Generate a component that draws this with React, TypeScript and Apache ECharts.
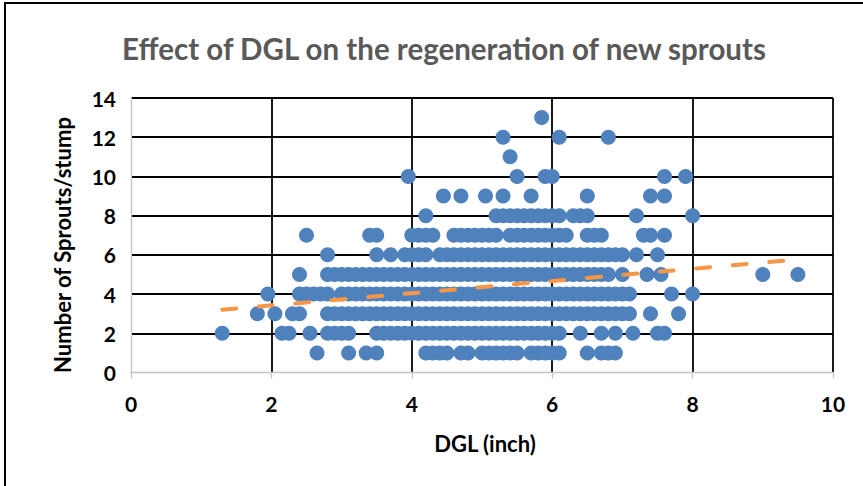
import React, { useEffect, useRef } from "react";
import * as echarts from "echarts";

// DGL values (inch) observed for each number of sprouts per stump
const dglAt1 = [2.65, 3.1, 3.35, 3.5, 4.2, 4.3, 4.4, 4.5, 4.7, 4.8, 5.0, 5.1, 5.2, 5.3, 5.4, 5.5, 5.7, 5.8, 5.9, 6.0, 6.1, 6.5, 6.7, 6.8, 6.9];
const dglAt2 = [1.3, 2.15, 2.25, 2.55, 2.8, 2.9, 3.0, 3.1, 3.5, 3.6, 3.7, 3.8, 3.9, 4.0, 4.1, 4.2, 4.3, 4.4, 4.5, 4.6, 4.7, 4.8, 4.9, 5.0, 5.1, 5.2, 5.3, 5.4, 5.5, 5.6, 5.7, 5.8, 5.9, 6.0, 6.1, 6.4, 6.7, 6.9, 7.15, 7.5, 7.6];
const dglAt3 = [1.8, 2.05, 2.3, 2.4, 2.8, 2.9, 3.0, 3.1, 3.2, 3.3, 3.4, 3.5, 3.6, 3.7, 3.8, 3.9, 4.0, 4.1, 4.2, 4.3, 4.4, 4.5, 4.6, 4.7, 4.8, 4.9, 5.0, 5.1, 5.2, 5.3, 5.4, 5.5, 5.6, 5.7, 5.8, 5.9, 6.0, 6.1, 6.2, 6.3, 6.4, 6.5, 6.6, 6.7, 6.8, 6.9, 7.0, 7.1, 7.4, 7.8];
const dglAt4 = [1.95, 2.4, 2.5, 2.6, 2.7, 2.8, 3.0, 3.1, 3.2, 3.3, 3.4, 3.5, 3.6, 3.7, 3.8, 3.9, 4.0, 4.1, 4.2, 4.3, 4.4, 4.5, 4.6, 4.7, 4.8, 4.9, 5.0, 5.1, 5.2, 5.3, 5.4, 5.5, 5.6, 5.7, 5.8, 5.9, 6.0, 6.1, 6.2, 6.3, 6.4, 6.5, 6.6, 6.7, 6.8, 6.9, 7.0, 7.1, 7.7, 8.0];
const dglAt5 = [2.4, 2.8, 2.9, 3.0, 3.1, 3.2, 3.3, 3.4, 3.5, 3.6, 3.7, 3.8, 3.9, 4.0, 4.1, 4.2, 4.3, 4.4, 4.5, 4.6, 4.7, 4.8, 4.9, 5.0, 5.1, 5.2, 5.3, 5.4, 5.5, 5.6, 5.7, 5.8, 5.9, 6.0, 6.1, 6.2, 6.3, 6.4, 6.5, 6.6, 6.7, 6.8, 7.0, 7.35, 7.55, 9.0, 9.5];
const dglAt6 = [2.8, 3.5, 3.7, 3.9, 4.0, 4.1, 4.2, 4.4, 4.5, 4.6, 4.7, 4.8, 4.9, 5.0, 5.1, 5.2, 5.3, 5.4, 5.5, 5.6, 5.7, 5.8, 5.9, 6.0, 6.1, 6.2, 6.3, 6.4, 6.5, 6.6, 6.7, 6.8, 6.9, 7.0, 7.2, 7.5];
const dglAt7 = [2.5, 3.4, 3.5, 4.0, 4.1, 4.2, 4.3, 4.6, 4.7, 4.8, 4.9, 5.0, 5.1, 5.2, 5.4, 5.5, 5.6, 5.7, 5.8, 5.9, 6.0, 6.1, 6.2, 6.5, 6.6, 6.7, 7.3, 7.4, 7.6];
const dglAt8 = [4.2, 5.2, 5.3, 5.4, 5.5, 5.6, 5.7, 5.8, 5.9, 6.0, 6.1, 6.3, 6.4, 6.5, 7.2, 8.0];
const dglAt9 = [4.45, 4.7, 5.05, 5.3, 5.7, 6.5, 7.4, 7.6];
const dglAt10 = [3.95, 5.5, 5.9, 6.0, 7.6, 7.9];
const dglAt11 = [5.4];
const dglAt12 = [5.3, 6.1, 6.8];
const dglAt13 = [5.85];

const sproutRows: [number, number[]][] = [
  [1, dglAt1], [2, dglAt2], [3, dglAt3], [4, dglAt4], [5, dglAt5], [6, dglAt6], [7, dglAt7],
  [8, dglAt8], [9, dglAt9], [10, dglAt10], [11, dglAt11], [12, dglAt12], [13, dglAt13],
];

// Linear trendline end points (x = DGL, y = sprouts)
const trendX = [1.3, 9.5];
const trendY = [3.2, 5.76];

const titleText = "Effect of DGL on the regeneration of new sprouts";
const xTitle = "DGL (inch)";
const yTitle = "Number of Sprouts/stump";

export default function App() {
  const ref = useRef<HTMLDivElement>(null);
  useEffect(() => {
    if (!ref.current) return;
    const chart = echarts.init(ref.current, undefined, { renderer: "svg" });
    const points: number[][] = [];
    sproutRows.forEach(([y, xs]) => xs.forEach((x) => points.push([x, y])));
    const font = "Lato";
    chart.setOption({
      animation: false,
      backgroundColor: "#ffffff",
      grid: { left: 131, top: 98, width: 702, height: 274.5, containLabel: false },
      xAxis: {
        type: "value",
        min: 0,
        max: 10,
        interval: 2,
        axisLine: { show: true, lineStyle: { color: "#C4C4C4", width: 1.3 } },
        axisTick: { show: true, length: 6, lineStyle: { color: "#C4C4C4", width: 1.3 } },
        axisLabel: { color: "#000", fontFamily: font, fontWeight: "bold", fontSize: 21, margin: 20 },
        splitLine: { show: true, showMinLine: false, lineStyle: { color: "#000", width: 1.8 } },
      },
      yAxis: {
        type: "value",
        min: 0,
        max: 14,
        interval: 2,
        axisLine: { show: true, lineStyle: { color: "#C4C4C4", width: 1.3 } },
        axisTick: { show: false },
        axisLabel: { color: "#000", fontFamily: font, fontWeight: "bold", fontSize: 21, margin: 15 },
        splitLine: { show: true, showMinLine: false, lineStyle: { color: "#000", width: 1.8 } },
      },
      graphic: [
        {
          type: "rect",
          shape: { x: 5, y: 3, width: 1000, height: 700 },
          style: { fill: "none", stroke: "#000", lineWidth: 2 },
          silent: true,
        },
        {
          type: "text",
          x: 444,
          y: 48,
          style: {
            text: titleText,
            fill: "#595959",
            font: `bold 29.5px ${font}`,
            textAlign: "center",
            textVerticalAlign: "middle",
          },
        },
        {
          type: "text",
          x: 485,
          y: 443,
          style: {
            text: xTitle,
            fill: "#000",
            font: `bold 22px ${font}`,
            textAlign: "center",
            textVerticalAlign: "middle",
          },
        },
        {
          type: "text",
          x: 62,
          y: 245,
          rotation: Math.PI / 2,
          style: {
            text: yTitle,
            fill: "#000",
            font: `bold 22px ${font}`,
            textAlign: "center",
            textVerticalAlign: "middle",
          },
        },
      ],
      series: [
        {
          type: "scatter",
          data: points,
          symbol: "circle",
          symbolSize: 15,
          itemStyle: { color: "#4F81BD", opacity: 1 },
          z: 2,
        },
        {
          type: "line",
          data: trendX.map((x, i) => [x, trendY[i]]),
          showSymbol: false,
          symbol: "none",
          lineStyle: { color: "#F79646", width: 4, type: [14, 22.6], cap: "round" },
          z: 3,
        },
      ],
    });
    return () => chart.dispose();
  }, []);
  return (
    <div
      ref={ref}
      style={{ position: "absolute", left: 0, top: 0, width: 863, height: 486, background: "#fff" }}
    />
  );
}
